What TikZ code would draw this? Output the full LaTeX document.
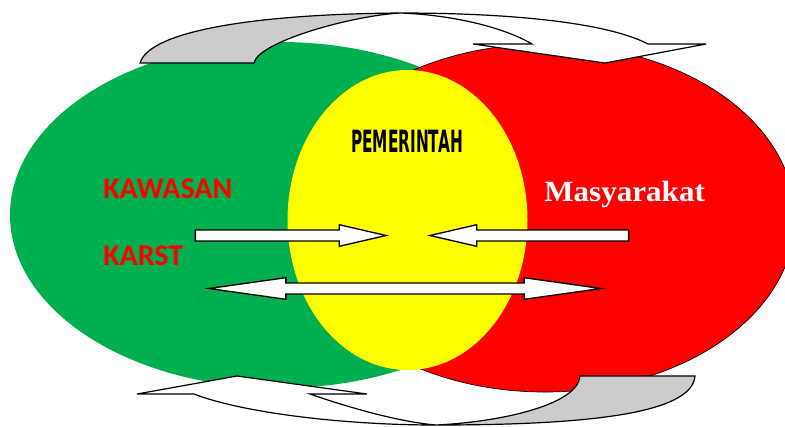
\documentclass[tikz,border=0pt]{standalone}
\usepackage{fontspec}
\usetikzlibrary{shapes.arrows}
\newfontfamily\labelfont{Carlito}
\newfontfamily\headfont{DejaVu Sans}
\newfontfamily\bodyserif{Liberation Serif}
\definecolor{karstgreen}{HTML}{00B050}
\definecolor{karstred}{HTML}{FF0000}
\definecolor{govyellow}{HTML}{FFFF00}
\definecolor{ribbon}{HTML}{CCCCCC}

\tikzset{
  curved/.style={draw=black, line width=0.9pt, line join=miter},
  blockarrow/.style={draw=black, line width=1pt, fill=white, inner xsep=0pt,
    inner ysep=3.6pt, minimum width=0pt},
}

\begin{document}
\begin{tikzpicture}[x=0.75pt, y=-0.75pt]
\useasboundingbox (0,0) rectangle (785,426);

% the three areas
\fill[karstgreen] (280,215) ellipse [x radius=270, y radius=173];
\filldraw[fill=karstred, draw=black, line width=0.5pt] (545,218) ellipse [x radius=250, y radius=174];
\fill[govyellow] (407.5,220) ellipse [x radius=120, y radius=150];

% ribbon arrow over the top
\filldraw[curved, fill=ribbon] (140,63) .. controls (150,30) and (260,14) .. (400,13)
  .. controls (350,16) and (258,42) .. (254,63) -- cycle;
\filldraw[curved, fill=white] (400,13) .. controls (520,13) and (610,24) .. (648,44)
  -- (706,44) -- (605,63) -- (473,44) -- (532,44)
  .. controls (505,28) and (455,15) .. (400,13) -- cycle;

% ribbon arrow underneath
\filldraw[curved, fill=white] (194,394) -- (137,394) -- (237,376) -- (367,394) -- (310,394)
  .. controls (350,408) and (400,422) .. (436,425)
  .. controls (340,425) and (240,412) .. (194,394) -- cycle;
\filldraw[curved, fill=ribbon] (436,425) .. controls (580,425) and (692,415) .. (695,376)
  -- (580,376) .. controls (578,405) and (500,422) .. (436,425) -- cycle;

% block arrows in the middle
\node[single arrow, blockarrow, single arrow head extend=4pt, single arrow tip angle=26,
  minimum height=143pt, anchor=tip] (fromkarst) at (389,235.5) {};
\node[single arrow, blockarrow, single arrow head extend=4pt, single arrow tip angle=26,
  shape border rotate=180, minimum height=149pt, anchor=tip] (fromsociety) at (427,235.5) {};
\node[double arrow, blockarrow, double arrow head extend=4pt, double arrow tip angle=16,
  minimum height=294pt] (mutual) at (405,288.5) {};

\node[anchor=base west, inner sep=0pt, text=karstred,
  font=\labelfont\bfseries\fontsize{22.5}{26}\selectfont] (kawasan) at (103,198) {KAWASAN};
\node[anchor=base west, inner sep=0pt, text=karstred,
  font=\labelfont\bfseries\fontsize{22.5}{26}\selectfont] (karst) at (103,265) {KARST};
\node[anchor=base, inner sep=0pt,
  font=\headfont\bfseries\fontsize{23}{26}\selectfont] (pemerintah) at (407,152)
  {\scalebox{0.5}[1]{PEMERINTAH}};
\node[anchor=base west, inner sep=0pt, text=white,
  font=\bodyserif\bfseries\fontsize{22}{26}\selectfont] (masyarakat) at (544,201)
  {\scalebox{1.06}[1]{Masyarakat}};
\end{tikzpicture}
\end{document}
